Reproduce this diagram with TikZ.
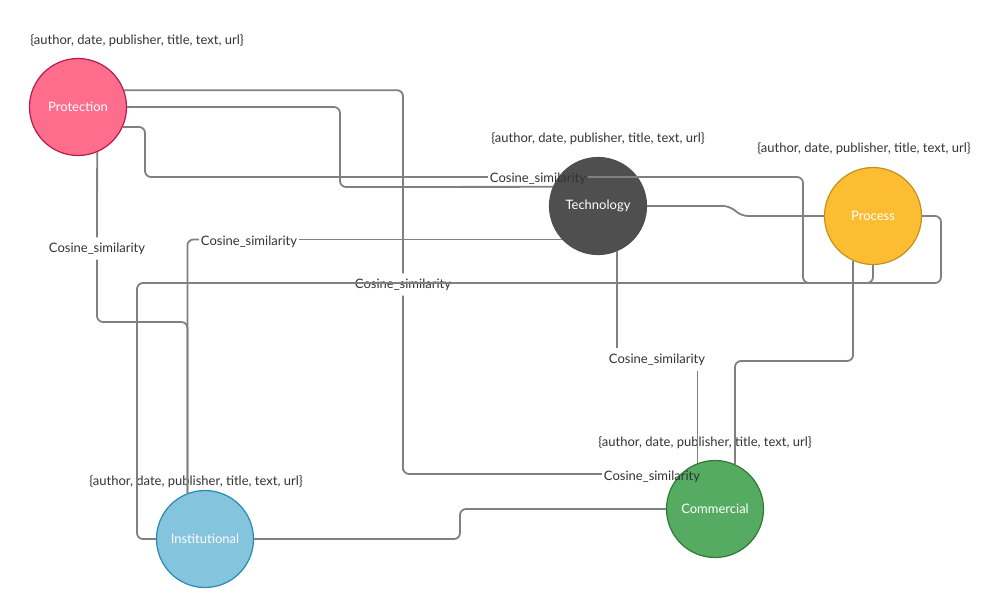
\documentclass[tikz,border=0pt]{standalone}
\usepackage{fontspec}
\setmainfont{Lato}
\definecolor{protfill}{HTML}{FF6D8C}
\definecolor{protline}{HTML}{B8194A}
\definecolor{techfill}{HTML}{4F4F4F}
\definecolor{procfill}{HTML}{FDBD33}
\definecolor{procline}{HTML}{C6901A}
\definecolor{instfill}{HTML}{85C4DD}
\definecolor{instline}{HTML}{2A88B2}
\definecolor{commfill}{HTML}{56AB62}
\definecolor{commline}{HTML}{2E7A33}
\definecolor{linkgray}{HTML}{808080}
\definecolor{textgray}{HTML}{333333}
\tikzset{
  topic/.style={circle,line width=1.2pt,minimum size=97pt,inner sep=0pt,
    text=white,font=\fontsize{13}{15}\selectfont},
  attrs/.style={text=textgray,font=\fontsize{13}{15}\selectfont,inner sep=0pt,
    yshift=-1.5pt},
  simlabel/.style={text=textgray,font=\fontsize{13}{15}\selectfont,
    inner xsep=2pt,inner ysep=5pt,yshift=-1.5pt},
  link/.style={draw=linkgray,line width=1.8pt,rounded corners=6pt}
}

\begin{document}
\begin{tikzpicture}[x=1pt,y=-1pt]
  \useasboundingbox (0,0) rectangle (1000,608);

  % topics
  \node[topic,fill=protfill,draw=protline] (prot) at (78,107) {Protection};
  \node[topic,fill=techfill,draw=techfill] (tech) at (598,206) {Technology};
  \node[topic,fill=procfill,draw=procline] (proc) at (873,216) {Process};
  \node[topic,fill=instfill,draw=instline] (inst) at (205,539) {Institutional};
  \node[topic,fill=commfill,draw=commline] (comm) at (715,509) {Commercial};

  % attribute sets
  \foreach \x/\y [count=\k] in {137/39,598/137,864/147,705/441,196/480} {
    \node[attrs] (attr\k) at (\x,\y) {\{author, date, publisher, title, text, url\}};
  }

  % similarity labels
  \node[simlabel] (sim1) at (97,247) {Cosine\_similarity};
  \node[simlabel] (sim2) at (249,240) {Cosine\_similarity};
  \node[simlabel] (sim3) at (403,283) {Cosine\_similarity};
  \node[simlabel] (sim4) at (538,177) {Cosine\_similarity};
  \node[simlabel] (sim5) at (657,358) {Cosine\_similarity};
  \node[simlabel] (sim6) at (652,475) {Cosine\_similarity};

  % links
  \draw[link] (prot.20) -| (sim3.north);
  \draw[link] (sim3.south) |- (403,474) -- (sim6.west |- 0,474);
  \draw[link] (prot.east) -| (340,187) -- (tech.157);
  \draw[link] (prot.-24) -| (145,177) -- (sim4.west |- 0,177);
  \draw[link] (sim4.east |- 0,177) -- (803,177) -- (803,283) -| (proc.south);
  \draw[link] (prot.-67) -- (sim1.north);
  \draw[link] (sim1.south) -- (97,322) -| (inst.111);
  \draw[link] (tech.-137) -- (sim2.east |- tech.-137);
  \draw[link] (sim2.west |- tech.-137) -| (inst.111);
  \draw[link] (tech.east) -- (729,206) -- (742,216) -- (proc.west);
  \draw[link] (tech.-67) -- (tech.-67 |- sim5.north);
  \draw[link] (comm.111 |- sim5.south) -- (comm.111);
  \draw[link] (proc.-114) |- (735,361) -- (comm.66);
  \draw[link] (proc.east) -| (941,283) -- (137,283) |- (inst.west);
  \draw[link] (inst.east) -| (460,509) -- (comm.west);
\end{tikzpicture}
\end{document}
